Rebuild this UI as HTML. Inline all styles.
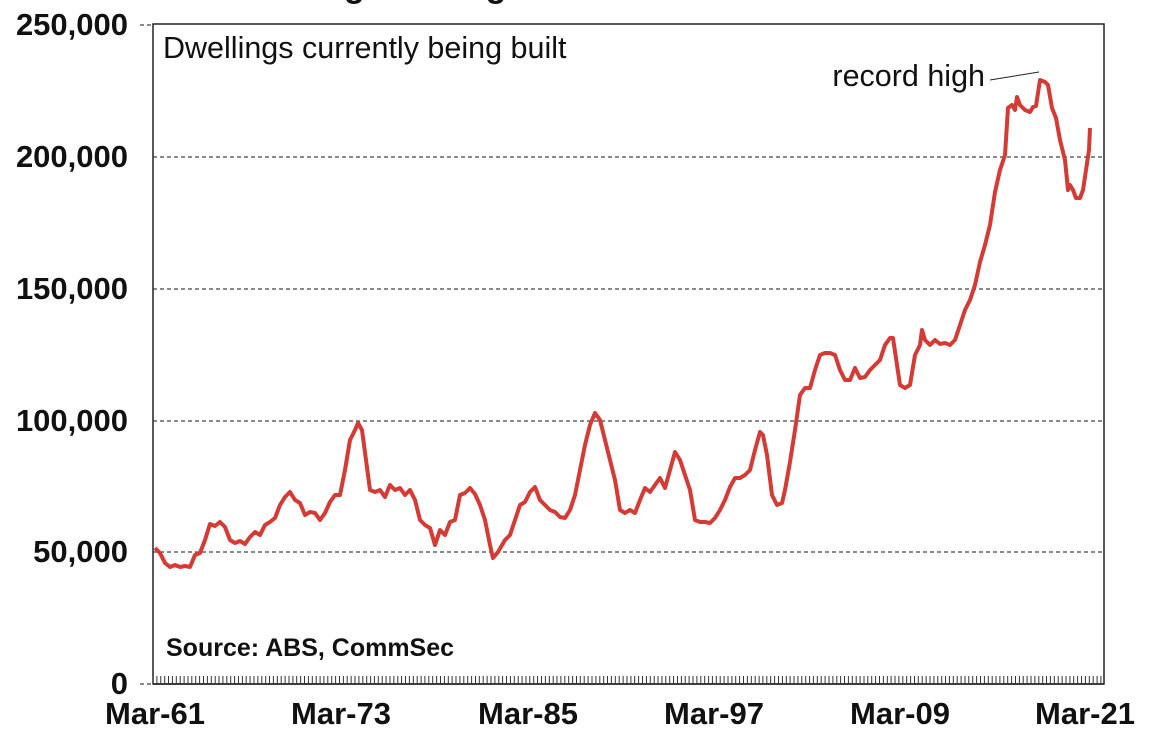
<!DOCTYPE html>
<html><head><style>body{margin:0;background:#fff}</style></head><body>
<svg width="1160" height="743" xmlns="http://www.w3.org/2000/svg" font-family="Liberation Sans, Arial, sans-serif">
<rect width="1160" height="743" fill="#fff"/>
<text x="225" y="-3" font-size="34" font-weight="bold" fill="#111">Dwelling building</text>
<g stroke="#444" stroke-width="1.2" stroke-dasharray="4,3">
<line x1="153" y1="157" x2="1104" y2="157"/><line x1="153" y1="289" x2="1104" y2="289"/>
<line x1="153" y1="421" x2="1104" y2="421"/><line x1="153" y1="552" x2="1104" y2="552"/>
<line x1="140" y1="25" x2="153" y2="25"/><line x1="140" y1="684" x2="153" y2="684"/>
</g>
<rect x="153" y="24" width="951" height="660" fill="none" stroke="#222" stroke-width="1.5"/>
<path d="M153 684 H1104" stroke="#222" stroke-width="1.5"/>
<g stroke="#333" stroke-width="1">
<path id="t" d=""/>
</g>
<g font-size="31" font-weight="bold" fill="#111" text-anchor="end">
<text x="128" y="35">250,000</text><text x="128" y="167">200,000</text>
<text x="128" y="299">150,000</text><text x="128" y="431">100,000</text>
<text x="128" y="562">50,000</text><text x="128" y="694">0</text>
</g>
<g font-size="31" font-weight="bold" fill="#111" text-anchor="middle">
<text x="155" y="724">Mar-61</text><text x="341" y="724">Mar-73</text>
<text x="528" y="724">Mar-85</text><text x="714" y="724">Mar-97</text>
<text x="900" y="724">Mar-09</text><text x="1085" y="724">Mar-21</text>
</g>
<text x="163" y="58" font-size="30.5" fill="#111">Dwellings currently being built</text>
<text x="166" y="656" font-size="25" font-weight="bold" fill="#111">Source: ABS, CommSec</text>
<text x="985" y="86" font-size="30.5" fill="#111" text-anchor="end">record high</text>
<line x1="990" y1="80" x2="1039" y2="72" stroke="#222" stroke-width="1"/>
<polyline fill="none" stroke="#d63a34" stroke-width="4" stroke-linejoin="round" points="155,548 160,553 165,563 170,567 175,565 180,567 185,566 190,567 195,555 200,553 205,540 210,524 215,526 220,522 225,527 230,540 235,543 240,541 245,544 250,537 255,532 260,535 265,525 270,522 275,518 280,505 285,497 290,492 295,500 300,503 305,515 310,512 315,513 320,520 325,513 330,502 335,495 340,495 345,470 350,440 355,430 358,423 362,430 366,460 370,490 375,492 380,490 385,497 390,485 395,490 400,488 405,495 410,490 415,500 420,520 425,525 430,528 435,545 440,530 445,535 450,522 455,520 460,495 465,493 470,488 475,494 480,505 485,520 490,545 493,558 498,552 505,540 510,535 515,520 520,505 525,502 530,492 535,487 540,500 545,505 550,510 555,512 560,517 565,518 570,510 575,495 580,470 585,445 590,425 595,413 600,420 605,440 610,460 615,480 620,510 625,513 630,510 635,513 640,500 645,488 650,492 655,485 660,478 665,488 670,470 675,452 680,460 685,475 690,490 695,520 700,522 705,522 710,523 715,518 720,510 725,500 730,487 735,478 740,478 745,475 750,470 755,450 760,432 763,435 767,455 772,495 777,505 782,503 785,490 790,462 795,430 800,395 805,388 810,388 815,370 820,355 825,353 830,353 835,355 840,370 845,380 850,380 855,368 860,378 865,377 870,370 875,365 880,360 885,345 890,338 893,338 897,365 900,385 905,388 910,385 915,355 920,345 922,330 925,340 930,345 935,340 940,344 945,343 950,345 955,340 960,325 965,310 970,300 975,285 980,262 985,245 990,225 995,192 1000,170 1005,155 1008,108 1012,105 1015,110 1017,97 1020,105 1025,110 1030,112 1033,107 1036,106 1040,80 1045,82 1048,85 1052,108 1056,118 1060,140 1065,160 1068,190 1070,185 1073,190 1076,198 1080,198 1083,190 1086,170 1089,150 1090,128"/>
<script>
var g=document.querySelector('#t');var d='';for(var x=153;x<1104;x+=3.885){d+='M'+x.toFixed(1)+' 684v-8';}g.setAttribute('d',d);
</script>
</svg>
</body></html>
